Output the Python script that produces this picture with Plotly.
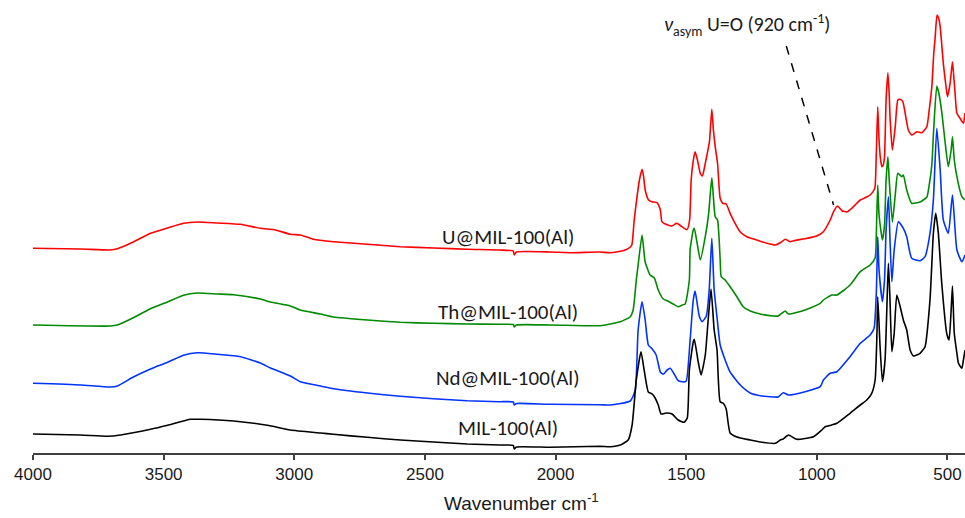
import plotly.graph_objects as go

# ---------------- data (wavenumber cm-1, offset intensity a.u.) ----------------
u_wn = [4000, 3818, 3704, 3677, 3616, 3550, 3485, 3424, 3371, 3294, 3206, 3130, 3072, 3015, 2977, 2927,
        2850, 2720, 2594, 2468, 2338, 2214, 2162, 2158, 2150, 2020, 1944, 1829, 1791, 1752, 1729, 1714,
        1708, 1699, 1689, 1679, 1669, 1663, 1657, 1644, 1631, 1612, 1599, 1593, 1580, 1555, 1536, 1520,
        1497, 1487, 1481, 1474, 1466, 1457, 1446, 1438, 1427, 1418, 1411, 1402, 1396, 1389, 1380, 1370,
        1360, 1347, 1332, 1313, 1293, 1268, 1230, 1191, 1159, 1140, 1121, 1102, 1089, 1038, 1000, 975,
        949, 936, 921, 904, 885, 860, 834, 809, 796, 781, 777, 772, 767, 762, 756, 751, 746, 741, 735,
        728, 723, 720, 711, 700, 690, 681, 671, 662, 650, 637, 617, 598, 579, 570, 560, 553, 547, 540,
        534, 528, 516, 505, 500, 490, 481, 475, 471, 464, 452, 439, 433]
u_val = [204.7, 204, 203, 204.3, 211, 219.7, 225, 229.7, 231, 230, 228.7, 224.7, 223, 218.7, 218, 213.7,
         211.3, 208.7, 206.3, 205, 203.7, 203, 202, 198, 201, 201, 200.3, 201, 200.3, 201.7, 203.5, 206,
         208, 233, 254.7, 273, 283.7, 276.3, 263, 253, 251.3, 250.3, 243, 231.3, 229, 227, 229.7, 227,
         223.3, 233, 273, 290.7, 301.3, 293, 279.7, 277, 289.7, 301.3, 311.3, 343.7, 323, 306.3, 289.7, 254.7,
         249.7, 249, 239.7, 229.7, 221, 216.3, 213, 209.7, 208, 210.3, 213.7, 211.3, 212.3, 214.7, 217, 221.3,
         233, 241.3, 247, 242.3, 241, 246.3, 253, 256, 258, 263, 266.3, 303, 346.3, 313, 293, 286.3, 288, 296.3, 353,
         380.3, 358, 336.3, 303, 326.3, 353, 353.7, 351.3, 339.7, 323, 318, 321.3, 320.3, 326.3, 343, 366.3, 398, 416.3, 438,
         435, 426.3, 389.7, 365, 356.3, 369.7, 391.3, 373, 359.7, 339.7, 334.7, 329.7, 340]

th_wn = [4000, 3704, 3677, 3616, 3550, 3485, 3424, 3371, 3294, 3232, 3130, 3091, 3015, 2977, 2900, 2850,
         2720, 2594, 2468, 2338, 2214, 2162, 2158, 2150, 2020, 1829, 1791, 1752, 1714, 1703, 1691, 1684,
         1669, 1657, 1638, 1622, 1607, 1588, 1573, 1550, 1531, 1515, 1504, 1488, 1485, 1473, 1469, 1457,
         1446, 1427, 1414, 1402, 1389, 1380, 1370, 1366, 1351, 1332, 1306, 1282, 1255, 1217, 1167, 1148,
         1121, 1109, 1045, 987, 975, 943, 923, 873, 834, 796, 777, 772, 767, 762, 749, 741, 735, 728, 723,
         711, 700, 690, 675, 669, 656, 637, 605, 579, 570, 560, 553, 541, 534, 522, 510, 497, 486, 481,
         474, 464, 445, 433]
th_val = [128, 127, 128, 135.3, 144.3, 151, 157.7, 160, 159, 158.3, 154, 151, 147, 143, 139, 136,
          133, 130.7, 129.7, 129, 128.7, 128.5, 126, 128, 128, 127.3, 129, 131.3, 136.3, 143, 173, 188,
          218, 191, 178, 175, 163, 154, 152.3, 149, 146.3, 148, 149, 173, 203, 223, 224.7, 208,
          193, 216.3, 239.7, 275.3, 236.3, 233, 193, 176.3, 173, 166.3, 156.3, 146.3, 142, 139, 137, 137,
          142, 139, 143, 149.7, 153, 158, 158, 168, 181.3, 188, 195, 223, 268, 238, 213, 228, 273, 296.3, 273,
          231, 258, 279.7, 276.3, 278, 263, 249.7, 251, 256, 268, 288, 323, 367, 361, 341, 313, 286.3, 303, 316.3,
          293, 276.3, 256.3, 253]

nd_wn = [4000, 3818, 3704, 3677, 3616, 3550, 3485, 3424, 3371, 3294, 3206, 3130, 3091, 3015, 2977, 2900,
         2850, 2720, 2594, 2468, 2338, 2214, 2162, 2158, 2150, 2020, 1829, 1791, 1714, 1695, 1684, 1669,
         1657, 1645, 1630, 1615, 1599, 1588, 1573, 1561, 1546, 1531, 1511, 1500, 1485, 1473, 1466, 1450,
         1439, 1423, 1412, 1402, 1393, 1381, 1370, 1351, 1332, 1293, 1255, 1217, 1167, 1148, 1129, 1109,
         1045, 987, 975, 949, 923, 873, 834, 796, 781, 772, 767, 762, 749, 741, 735, 726, 720, 713, 704,
         688, 669, 656, 637, 605, 586, 567, 554, 541, 528, 516, 497, 481, 464, 445, 433]
nd_val = [69.7, 68, 66, 67, 76, 84, 90.7, 97.7, 100.3, 98.7, 96.3, 90, 85, 77, 71.3, 67,
          64.3, 60, 56.7, 54.3, 52.3, 51.3, 51, 48, 49.5, 48.7, 48.3, 48, 52, 63, 123, 151.3,
          133, 108, 104, 98, 81, 78.7, 83, 84.7, 79, 72.3, 71, 72, 113, 153, 162, 137,
          131.3, 137, 163, 214.7, 163, 133, 108, 93, 81, 68, 60, 57.3, 56, 56, 60.3, 58,
          61.3, 66.3, 73, 79.7, 81.3, 96.3, 109.7, 118, 124.7, 163, 216.3, 183, 151.3, 173, 223, 256.3, 213, 171.3, 203,
          231.3, 224.7, 216.3, 194.7, 192.3, 196.3, 219.7, 253, 324.7, 283, 233, 219.7, 258, 203, 191.3, 198]

mil_wn = [4000, 3818, 3715, 3665, 3550, 3485, 3397, 3359, 3232, 3103, 3015, 2900, 2850, 2720, 2594, 2468,
          2338, 2214, 2162, 2158, 2150, 2020, 1829, 1791, 1752, 1722, 1707, 1691, 1673, 1661, 1645, 1630,
          1619, 1607, 1596, 1576, 1554, 1531, 1508, 1496, 1488, 1473, 1469, 1454, 1443, 1427, 1416, 1405,
          1393, 1382, 1370, 1358, 1347, 1332, 1306, 1255, 1217, 1159, 1140, 1129, 1109, 1077, 1013, 981,
          968, 943, 923, 873, 834, 809, 790, 777, 770, 767, 758, 749, 739, 730, 726, 720, 713, 704, 694,
          681, 669, 656, 643, 630, 605, 586, 567, 554, 545, 535, 522, 503, 494, 486, 481, 474, 464, 458,
          445, 439, 433]
mil_val = [19, 18, 16.7, 18, 23.7, 27.7, 33.7, 33.7, 32, 27.7, 23, 20, 18.7, 15.7, 13, 11,
           9, 8, 7.5, 4, 6, 5.7, 6.7, 6.3, 8, 13, 28, 73, 101.3, 83, 61, 59,
           55, 48, 39, 40, 39, 33, 30.7, 35, 83, 111, 113.7, 91, 78, 98, 133, 164,
           123, 103, 51.3, 49.7, 44, 20, 16, 13, 11, 9.7, 13, 14, 18, 13.7, 16.3, 23,
           26.3, 28, 29.7, 39.7, 48, 53, 59.7, 73, 119.7, 156.3, 106.3, 71.3, 93, 163, 189.7, 153, 101.3, 119.7, 158,
           146.3, 133, 123, 103, 97, 99.7, 106.3, 153, 219.7, 239.7, 219.7, 169.7, 119.7, 113, 143, 167, 119.7, 99.7, 89.7,
           84.7, 93, 103]

series_names = ["U@MIL-100(Al)", "Th@MIL-100(Al)", "Nd@MIL-100(Al)", "MIL-100(Al)"]
label_wn = [2181, 2181, 2181, 2181]
label_y = [216, 141, 75, 25]
tick_vals = [4000, 3500, 3000, 2500, 2000, 1500, 1000, 500]

# annotation (920 cm-1 band)
ann_text_wn, ann_text_y = 1268, 428
ann_line_wn = [1117, 936]
ann_line_y = [407, 248]

# ---------------- figure ----------------
colors = ["#FF0000", "#008A00", "#0033FF", "#000000"]
xs = [u_wn, th_wn, nd_wn, mil_wn]
ys = [u_val, th_val, nd_val, mil_val]

fig = go.Figure()
for x, y, c, n in zip(xs, ys, colors, series_names):
    fig.add_trace(go.Scatter(x=x, y=y, mode="lines", name=n,
                             line=dict(color=c, width=1.6, shape="spline", smoothing=0.5),
                             showlegend=False, hoverinfo="skip"))

fig.add_trace(go.Scatter(x=ann_line_wn, y=ann_line_y, mode="lines",
                         line=dict(color="black", width=1.5, dash="dash"),
                         showlegend=False, hoverinfo="skip"))

label_font = dict(family="Calibri, Carlito, Lato, sans-serif", size=21, color="#1a1a1a")
for n, xw, yv in zip(series_names, label_wn, label_y):
    fig.add_annotation(x=xw, y=yv, text=n, showarrow=False, font=label_font,
                       xanchor="center", yanchor="middle")

fig.add_annotation(x=ann_text_wn, y=ann_text_y, showarrow=False,
                   text="<i>ν</i><sub>asym</sub> U=O (920 cm<sup>-1</sup>)",
                   font=dict(family="Calibri, Carlito, Lato, sans-serif", size=20, color="#1a1a1a"),
                   xanchor="center", yanchor="middle")

fig.add_annotation(xref="paper", yref="paper", x=0.524, y=-0.108, showarrow=False,
                   text="Wavenumber cm<sup>-1</sup>",
                   font=dict(family="Liberation Sans, Arial, sans-serif", size=19, color="#1a1a1a"),
                   xanchor="center", yanchor="middle")

fig.update_xaxes(range=[4000, 433], tickvals=tick_vals, ticktext=[str(v) for v in tick_vals],
                 showline=True, linecolor="#404040", linewidth=2, ticks="outside", ticklen=5,
                 tickwidth=1.5, tickcolor="#404040", showgrid=False, zeroline=False,
                 tickfont=dict(family="Liberation Sans, Arial, sans-serif", size=17, color="#1a1a1a"))
fig.update_yaxes(range=[0, 453], visible=False, showgrid=False, zeroline=False)

fig.update_layout(width=965, height=518, margin=dict(l=33, r=0, t=0, b=65, autoexpand=False),
                  plot_bgcolor="white", paper_bgcolor="white")

fig.write_html("out.html", config={"displayModeBar": False},
               post_script="document.body.style.margin='0';document.body.style.padding='0';")
